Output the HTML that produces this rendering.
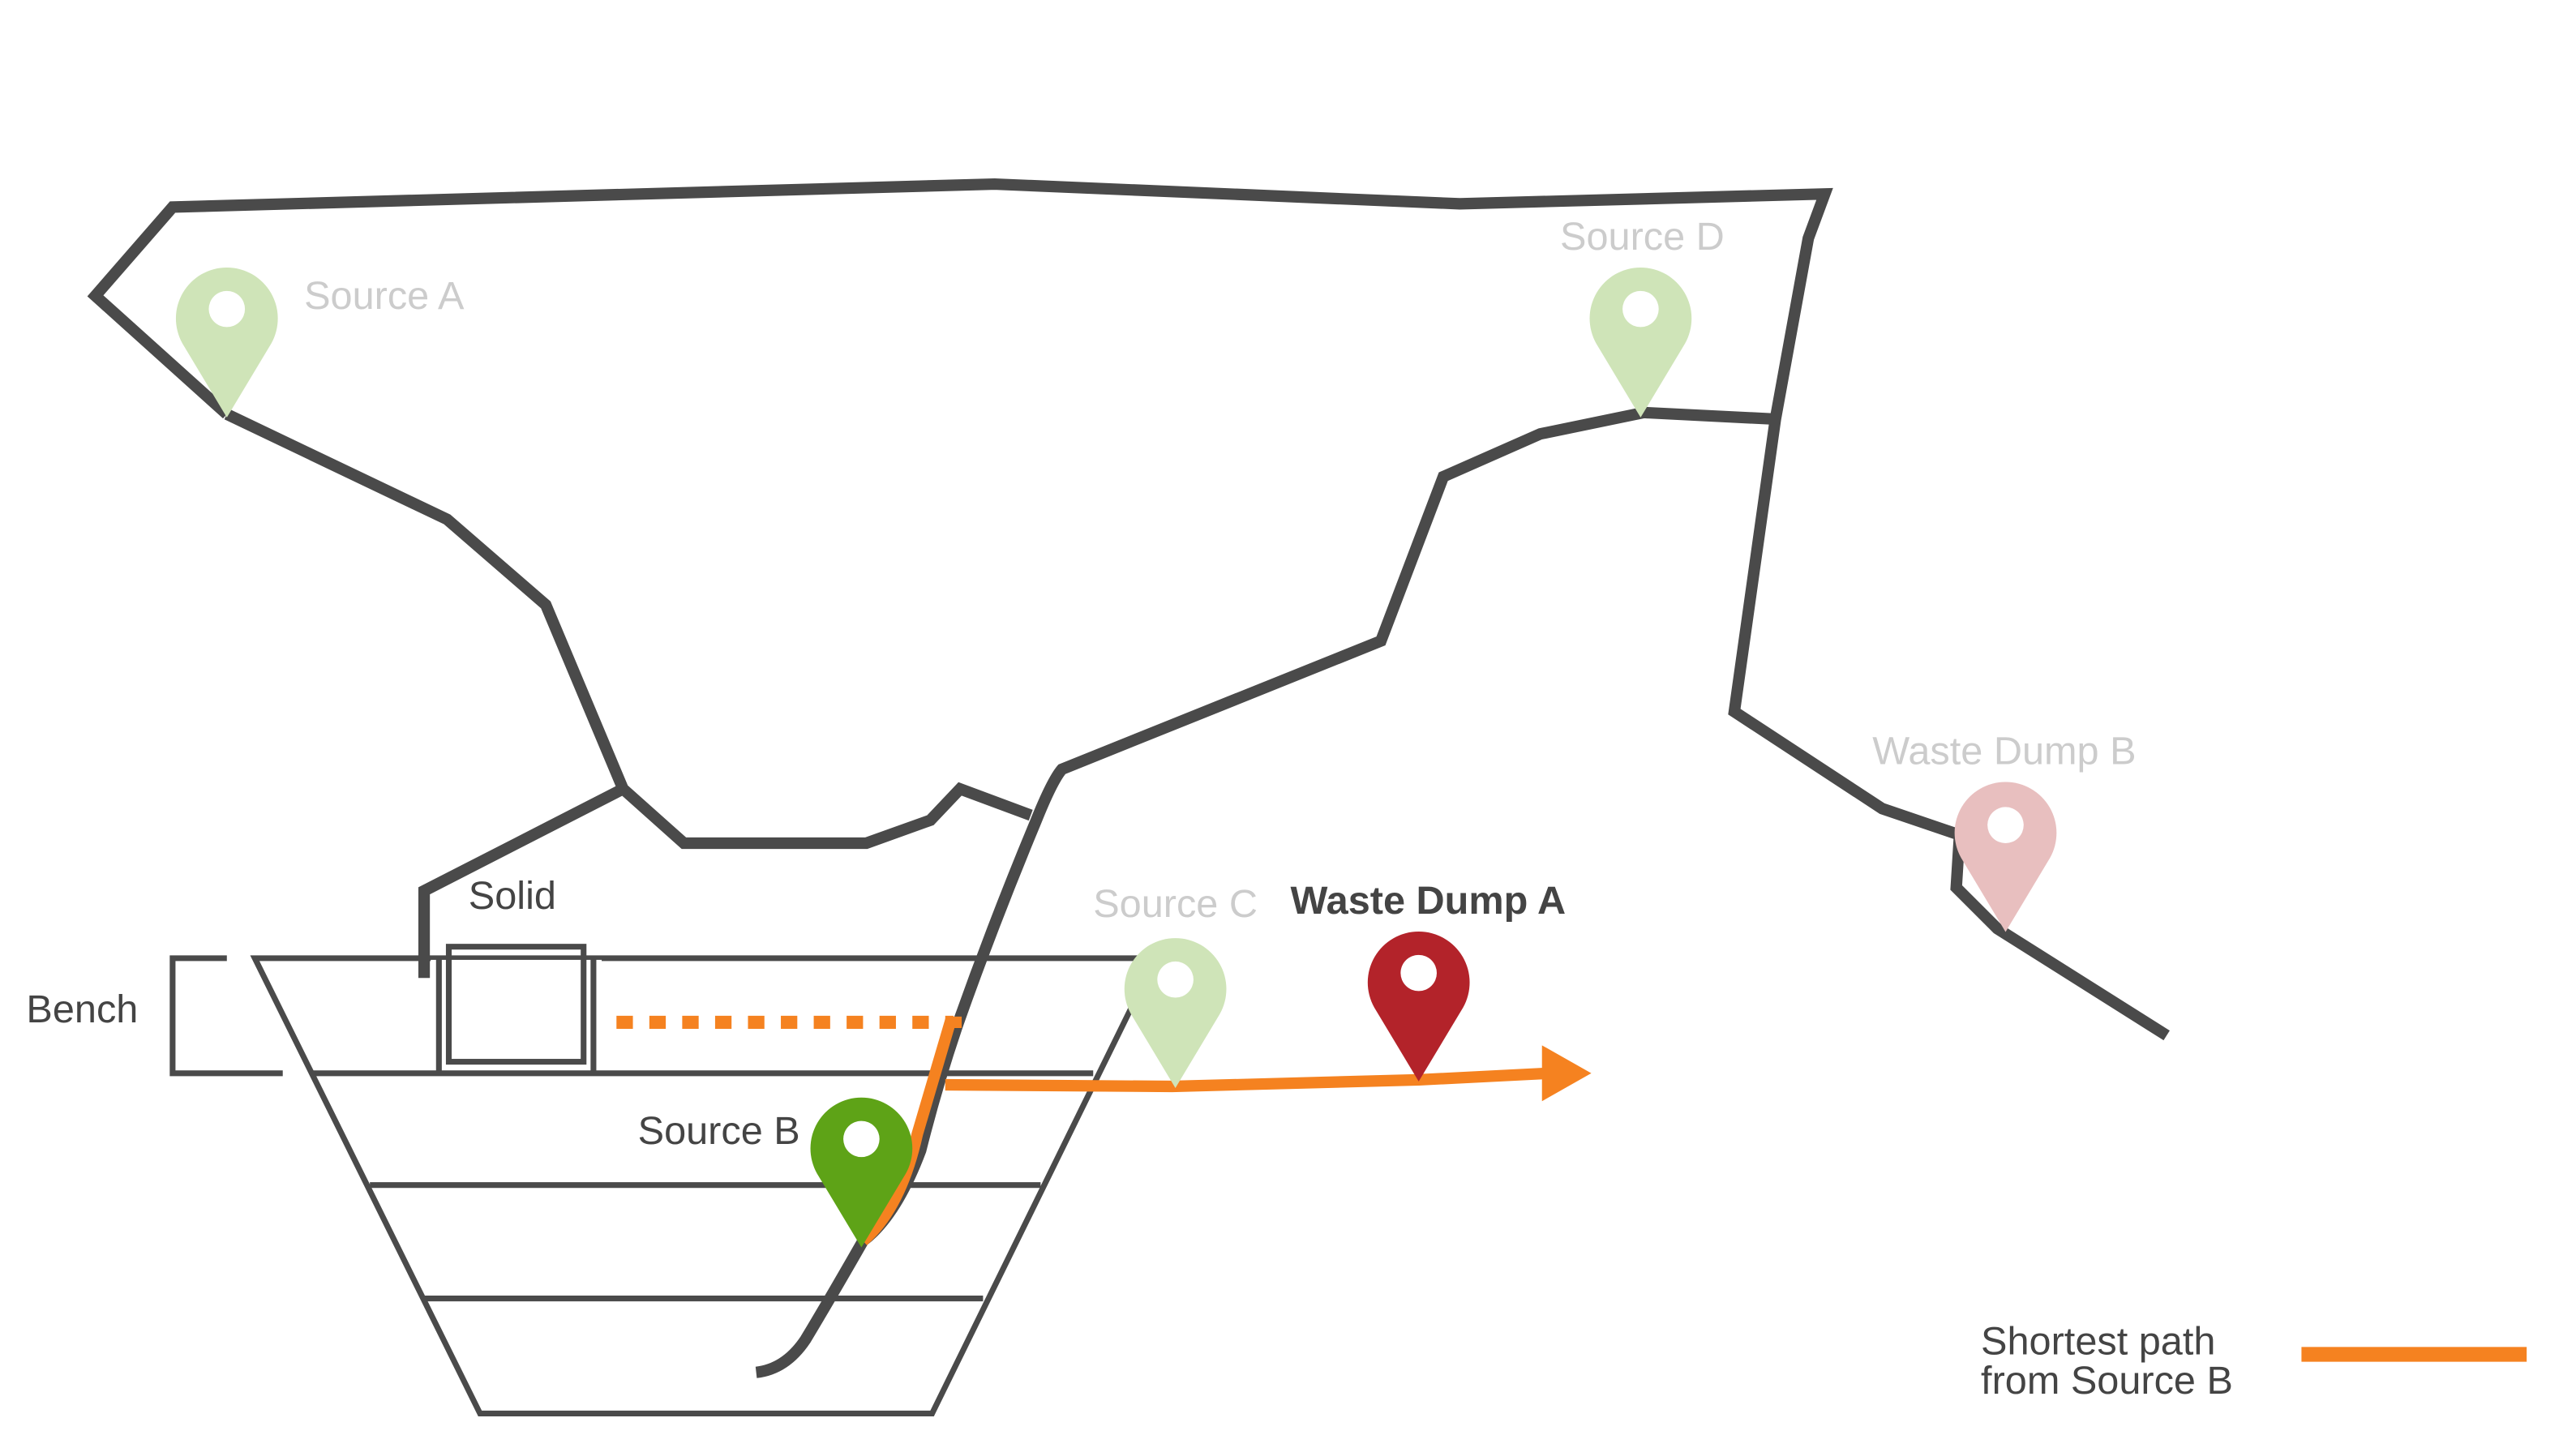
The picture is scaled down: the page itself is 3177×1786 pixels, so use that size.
<!DOCTYPE html>
<html><head><meta charset="utf-8"><style>
html,body{margin:0;padding:0;background:#fff;}
svg{display:block;}
text{font-family:"Liberation Sans",sans-serif;}
</style></head><body>
<svg width="3177" height="1786" viewBox="0 0 1567 881" preserveAspectRatio="none" xmlns="http://www.w3.org/2000/svg">
<defs>
<path id="pin" d="M0,62 L-27,17 A31,31 0 1 1 27,17 Z"/>
</defs>
<g fill="none" stroke="#4a4a4a" stroke-width="7" stroke-linejoin="miter">
<polyline points="138,252 58,180 105,126 605,112 888,124 1110,118 1100,145 1080,255 1055,433 1145,492 1192,508 1190,540 1215,565 1318,630"/>
<polyline points="138,252 272,316 332,368 379,480 416,513 527,513 566,499 584,480 627,496"/>
<polyline points="379,480 258,542 258,595"/>
<path d="M1080,255 L1000,251 L937,264 L878,290 L840,390 L646,468 Q640,475 630,500 Q605,560 583,622 Q570,660 560,700 Q545,740 525,755 Q505,790 490,815 Q478,833 460,835"/>
</g>
<g fill="none" stroke="#4a4a4a" stroke-width="3.5">
<polygon points="155,583 703,583 567,860 292,860"/>
<line x1="190" y1="653" x2="665" y2="653"/>
<line x1="225" y1="721" x2="633" y2="721"/>
<line x1="258" y1="790" x2="598" y2="790"/>
<polyline points="138,583 105,583 105,653 172,653"/>
</g>
<rect x="262" y="584" width="104" height="60" fill="#fff"/>
<g fill="none" stroke="#4a4a4a" stroke-width="3.5">
<rect x="273" y="576" width="82" height="70"/>
<line x1="267" y1="583" x2="267" y2="653"/>
<line x1="361" y1="583" x2="361" y2="653"/>
</g>
<line x1="375" y1="622" x2="580" y2="622" stroke="#f58220" stroke-width="8" stroke-dasharray="10,10"/>
<g fill="none" stroke="#f58220" stroke-width="7">
<path d="M525,755 Q548,735 558,690 L578,622 L585,622"/>
<path d="M575,660 L713,661 L863,657 L942,653"/>
</g>
<polygon points="938,636 968,653 938,670" fill="#f58220"/>
<g>
<use href="#pin" x="138" y="192" fill="#cfe4b8"/><circle cx="138" cy="188" r="11" fill="#fff"/>
<use href="#pin" x="998" y="192" fill="#cfe4b8"/><circle cx="998" cy="188" r="11" fill="#fff"/>
<use href="#pin" x="1220" y="505" fill="#e8bfbf"/><circle cx="1220" cy="502" r="11" fill="#fff"/>
<use href="#pin" x="715" y="600" fill="#cfe4b8"/><circle cx="715" cy="596" r="11" fill="#fff"/>
<use href="#pin" x="863" y="596" fill="#b3232a"/><circle cx="863" cy="592" r="11" fill="#fff"/>
<use href="#pin" x="524" y="697" fill="#5ea317"/><circle cx="524" cy="693" r="11" fill="#fff"/>
</g>
<g font-size="24">
<text x="185" y="188" fill="#cccccc">Source A</text>
<text x="949" y="152" fill="#cccccc">Source D</text>
<text x="1139" y="465" fill="#cccccc">Waste Dump B</text>
<text x="665" y="558" fill="#cccccc">Source C</text>
<text x="785" y="556" fill="#444" font-weight="bold">Waste Dump A</text>
<text x="285" y="553" fill="#444">Solid</text>
<text x="16" y="622" fill="#444">Bench</text>
<text x="388" y="696" fill="#444">Source B</text>
<text x="1205" y="824" fill="#444">Shortest path</text>
<text x="1205" y="848" fill="#444">from Source B</text>
</g>
<line x1="1400" y1="824" x2="1537" y2="824" stroke="#f58220" stroke-width="9"/>
</svg>
</body></html>
